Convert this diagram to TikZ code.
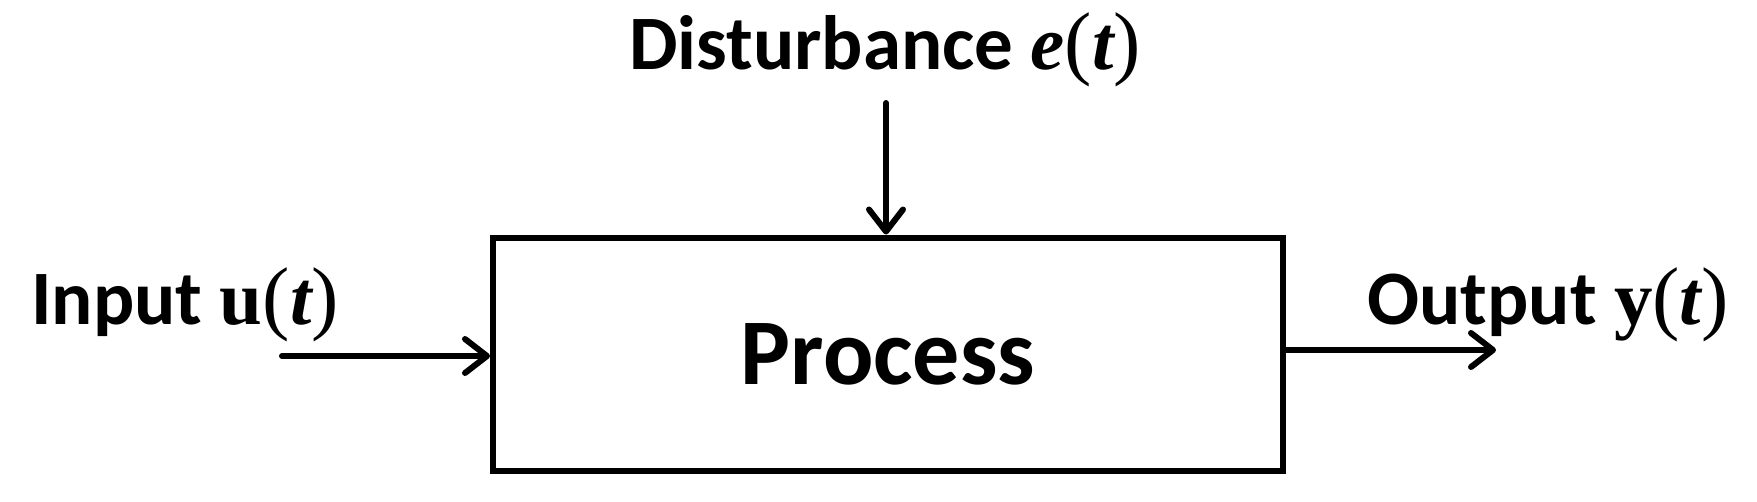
\documentclass[tikz,border=0pt]{standalone}
\usepackage{fontspec}
\setmainfont{Carlito}
\newfontfamily\mathser{Liberation Serif}
\usetikzlibrary{arrows.meta}
\newcommand{\myv}[1]{{\mathser\bfseries #1}}
\newcommand{\myi}[1]{{\mathser\bfseries\itshape #1}}
\newcommand{\myp}[1]{{\mathser\mdseries\fontsize{82}{88}\selectfont #1}}
\tikzset{
  procbox/.style={draw, line width=6pt, minimum width=790pt, minimum height=233pt,
    inner sep=0pt, font=\fontsize{94}{100}\selectfont\bfseries},
  lbl/.style={inner sep=0pt, font=\fontsize{77}{84}\selectfont\bfseries},
  arr/.style={line width=6pt, line cap=round, line join=round,
    -{Straight Barb[length=22pt, width=34pt, line cap=round, line join=round]}}
}
\begin{document}
\begin{tikzpicture}[x=1pt,y=-1pt]
\useasboundingbox (0,0) rectangle (1757,501);
\node[procbox] (proc) at (888,354) {Process};
\coordinate (inS) at (282,356);
\coordinate (outE) at (1496,350);
\coordinate (dS) at (886,103);
\draw[arr] (inS) -- (inS -| proc.west);
\draw[arr] (outE -| proc.east) -- (outE);
\draw[arr] (dS) -- (dS |- proc.north);
\node[lbl, anchor=base] (dist) at (885,69) {Disturbance \myi{e}\myp{(}\myi{t}\myp{)}};
\node[lbl, anchor=base] (inp) at (185,324) {Input \myv{u}\myp{(}\myi{t}\myp{)}};
\node[lbl, anchor=base] (outp) at (1548,324) {Output \myv{y}\myp{(}\myi{t}\myp{)}};
\end{tikzpicture}
\end{document}
